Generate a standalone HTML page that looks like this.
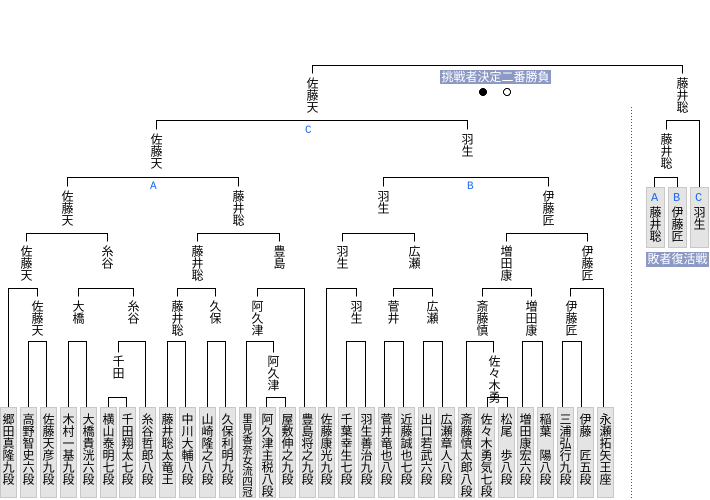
<!DOCTYPE html>
<html><head><meta charset="utf-8"><style>
body{margin:0;width:710px;height:500px;background:#fff;position:relative;overflow:hidden;font-family:"Liberation Sans","Noto Sans CJK JP",sans-serif;}
.t,.b span,.rb span{writing-mode:vertical-rl;text-orientation:upright;font-size:12px;line-height:12px;white-space:pre;letter-spacing:0;}
.t{position:absolute;width:12px;color:#000;}
.b{position:absolute;top:407px;width:15px;height:89px;background:#e4e4e4;border:1px solid #c8c8c8;}
.b span{position:absolute;left:1px;top:5px;width:12px;}
.l{position:absolute;color:#1e6cf0;font-size:11px;line-height:11px;font-family:"Liberation Mono",monospace;}
.g{position:absolute;background:#8c99c4;color:#fff;font-size:12px;line-height:14px;text-align:center;white-space:nowrap;}
.rb{position:absolute;top:187px;width:17px;height:59px;background:#e4e4e4;border:1px solid #c8c8c8;}
.rb span{position:absolute;left:2px;width:12px;}
.rb span.l{writing-mode:horizontal-tb;}
</style></head><body>
<svg width="710" height="500" style="position:absolute;left:0;top:0" shape-rendering="crispEdges">
<g stroke="#000" stroke-width="1" fill="none" transform="translate(0.5,0.5)">
<path d="M312 73V65H682V73"/>
<path d="M156 129V120H467V129"/>
<path d="M666 129V120H699V187"/>
<path d="M654 187V177H677V187"/>
<path d="M67 186V177H238V186"/>
<path d="M383 186V177H548V186"/>
<path d="M26 241V233H107V241"/>
<path d="M197 241V233H279V241"/>
<path d="M342 241V233H414V241"/>
<path d="M506 241V233H587V241"/>
<path d="M8 408V288H37V296"/>
<path d="M78 296V288H133V296"/>
<path d="M177 296V288H215V296"/>
<path d="M257 296V288H304V408"/>
<path d="M326 408V288H356V296"/>
<path d="M393 296V288H432V296"/>
<path d="M482 296V288H531V296"/>
<path d="M570 296V288H603V408"/>
<path d="M28 408V341H46V408"/>
<path d="M68 408V341H86V408"/>
<path d="M118 352V341H145V408"/>
<path d="M167 408V341H185V408"/>
<path d="M207 408V341H225V408"/>
<path d="M246 408V341H273V352"/>
<path d="M346 408V341H365V408"/>
<path d="M384 408V341H403V408"/>
<path d="M423 408V341H442V408"/>
<path d="M466 408V341H493V352"/>
<path d="M522 408V341H542V408"/>
<path d="M562 408V341H581V408"/>
<path d="M108 408V397H126V408"/>
<path d="M266 408V397H285V408"/>
<path d="M487 408V397H507V408"/>
</g>
<line x1="631.5" y1="107" x2="631.5" y2="500" stroke="#555" stroke-dasharray="1,2"/>
<circle cx="483" cy="92" r="4" fill="#000"/>
<circle cx="507" cy="92" r="3.5" fill="#fff" stroke="#000"/>
</svg>

<div class="g" style="left:440px;top:70px;width:111px;height:14px;">挑戦者決定二番勝負</div>
<div class="g" style="left:646px;top:252px;width:63px;height:15px;line-height:15px;">敗者復活戦</div>

<div class="l" style="left:305px;top:126px;">C</div>
<div class="l" style="left:150px;top:182px;">A</div>
<div class="l" style="left:467px;top:182px;">B</div>

<div class="t" style="left:306px;top:77px;">佐藤天</div>
<div class="t" style="left:676px;top:77px;">藤井聡</div>
<div class="t" style="left:150px;top:133px;">佐藤天</div>
<div class="t" style="left:461px;top:133px;">羽生</div>
<div class="t" style="left:660px;top:133px;">藤井聡</div>
<div class="t" style="left:61px;top:190px;">佐藤天</div>
<div class="t" style="left:232px;top:190px;">藤井聡</div>
<div class="t" style="left:377px;top:190px;">羽生</div>
<div class="t" style="left:542px;top:190px;">伊藤匠</div>
<div class="t" style="left:20px;top:245px;">佐藤天</div>
<div class="t" style="left:101px;top:245px;">糸谷</div>
<div class="t" style="left:191px;top:245px;">藤井聡</div>
<div class="t" style="left:273px;top:245px;">豊島</div>
<div class="t" style="left:336px;top:245px;">羽生</div>
<div class="t" style="left:408px;top:245px;">広瀬</div>
<div class="t" style="left:500px;top:245px;">増田康</div>
<div class="t" style="left:581px;top:245px;">伊藤匠</div>
<div class="t" style="left:31px;top:300px;">佐藤天</div>
<div class="t" style="left:72px;top:300px;">大橋</div>
<div class="t" style="left:127px;top:300px;">糸谷</div>
<div class="t" style="left:171px;top:300px;">藤井聡</div>
<div class="t" style="left:209px;top:300px;">久保</div>
<div class="t" style="left:251px;top:300px;">阿久津</div>
<div class="t" style="left:350px;top:300px;">羽生</div>
<div class="t" style="left:387px;top:300px;">菅井</div>
<div class="t" style="left:426px;top:300px;">広瀬</div>
<div class="t" style="left:476px;top:300px;">斎藤慎</div>
<div class="t" style="left:525px;top:300px;">増田康</div>
<div class="t" style="left:565px;top:300px;">伊藤匠</div>
<div class="t" style="left:112px;top:355px;">千田</div>
<div class="t" style="left:267px;top:355px;">阿久津</div>
<div class="t" style="left:488px;top:355px;">佐々木勇</div>

<div class="rb" style="left:646px;"><span class="l" style="left:4px;top:4px;">A</span><span style="top:18px;">藤井聡</span></div>
<div class="rb" style="left:668px;"><span class="l" style="left:4px;top:4px;">B</span><span style="top:18px;">伊藤匠</span></div>
<div class="rb" style="left:690px;"><span class="l" style="left:4px;top:4px;">C</span><span style="top:18px;">羽生</span></div>

<div class="b" style="left:0px"><span>郷田真隆九段</span></div>
<div class="b" style="left:20px"><span>高野智史六段</span></div>
<div class="b" style="left:40px"><span>佐藤天彦九段</span></div>
<div class="b" style="left:60px"><span>木村一基九段</span></div>
<div class="b" style="left:80px"><span>大橋貴洸六段</span></div>
<div class="b" style="left:100px"><span>横山泰明七段</span></div>
<div class="b" style="left:119px"><span>千田翔太七段</span></div>
<div class="b" style="left:139px"><span>糸谷哲郎八段</span></div>
<div class="b" style="left:159px"><span>藤井聡太竜王</span></div>
<div class="b" style="left:179px"><span>中川大輔八段</span></div>
<div class="b" style="left:199px"><span>山崎隆之八段</span></div>
<div class="b" style="left:219px"><span>久保利明九段</span></div>
<div class="b" style="left:239px"><span style="font-size:10.5px;line-height:12px;">里見香奈女流四冠</span></div>
<div class="b" style="left:259px"><span>阿久津主税八段</span></div>
<div class="b" style="left:279px"><span>屋敷伸之九段</span></div>
<div class="b" style="left:299px"><span>豊島将之九段</span></div>
<div class="b" style="left:318px"><span>佐藤康光九段</span></div>
<div class="b" style="left:338px"><span>千葉幸生七段</span></div>
<div class="b" style="left:358px"><span>羽生善治九段</span></div>
<div class="b" style="left:378px"><span>菅井竜也八段</span></div>
<div class="b" style="left:398px"><span>近藤誠也七段</span></div>
<div class="b" style="left:418px"><span>出口若武六段</span></div>
<div class="b" style="left:438px"><span>広瀬章人八段</span></div>
<div class="b" style="left:458px"><span>斎藤慎太郎八段</span></div>
<div class="b" style="left:478px"><span>佐々木勇気七段</span></div>
<div class="b" style="left:498px"><span>松尾　歩八段</span></div>
<div class="b" style="left:517px"><span>増田康宏六段</span></div>
<div class="b" style="left:537px"><span>稲葉　陽八段</span></div>
<div class="b" style="left:557px"><span>三浦弘行九段</span></div>
<div class="b" style="left:577px"><span>伊藤　匠五段</span></div>
<div class="b" style="left:597px"><span>永瀬拓矢王座</span></div>
</body></html>
